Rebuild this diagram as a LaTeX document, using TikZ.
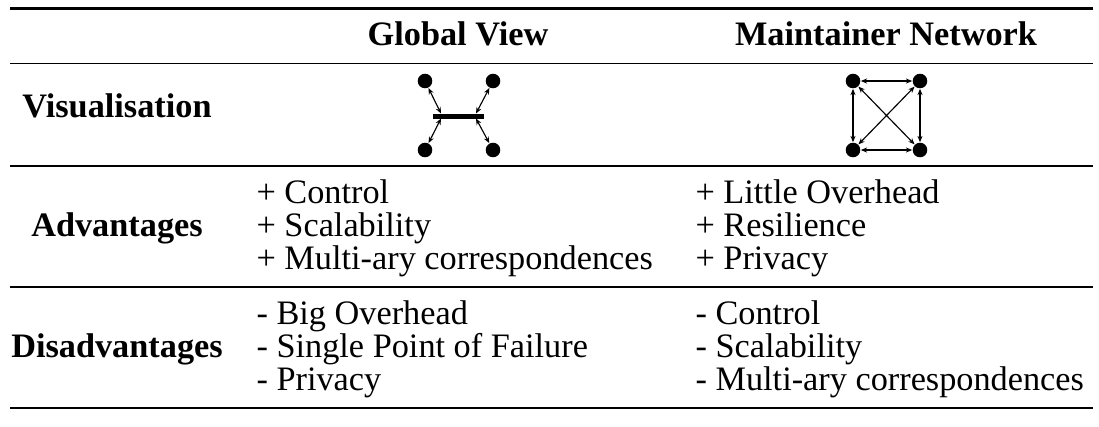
\documentclass[tikz,border=0pt]{standalone}
\usepackage{fontspec}
\setmainfont{Liberation Serif}
\usetikzlibrary{arrows.meta}
\begin{document}
\begin{tikzpicture}[x=0.35pt,y=-0.35pt,
  txt/.style={inner sep=0pt, font=\fontsize{12}{14}\selectfont},
  head/.style={inner sep=0pt, font=\fontsize{12}{14}\selectfont\bfseries, anchor=base},
  cell/.style={txt, anchor=base west},
  heavyrule/.style={line width=0.88pt},
  lightrule/.style={line width=0.55pt},
  dot/.style={circle, fill=black, inner sep=0pt, minimum size=5.1pt},
  link/.style={line width=0.4pt, {Stealth[length=2.2pt,width=1.8pt]}-{Stealth[length=2.2pt,width=1.8pt]}}
]
\useasboundingbox (0,0) rectangle (1099,426);

% table rules
\draw[heavyrule] (10,8.5) -- (1093,8.5);
\draw[lightrule] (10,63.5) -- (1093,63.5);
\draw[lightrule] (10,166) -- (1093,166);
\draw[lightrule] (10,287) -- (1093,287);
\draw[heavyrule] (10,408) -- (1093,408);

% column headers
\node[head] (hgv) at (458,45) {Global View};
\node[head] (hmn) at (886,45) {Maintainer Network};

% row labels
\node[head] (lvis) at (117,117) {Visualisation};
\node[head] (ladv) at (117,236) {Advantages};
\node[head] (ldis) at (117,357) {Disadvantages};

% global view: four peers around a central store
\node[dot] (g1) at (425,81) {};
\node[dot] (g2) at (493,81) {};
\node[dot] (g3) at (425,150) {};
\node[dot] (g4) at (493,150) {};
\node[fill=black, inner sep=0pt, minimum width=17.85pt, minimum height=1.75pt] (bar) at (458.5,116) {};
\coordinate (b1) at (441,113.5);
\coordinate (b2) at (476,113.5);
\coordinate (b3) at (441,118.5);
\coordinate (b4) at (476,118.5);
\draw[link] (g1) -- (b1);
\draw[link] (g2) -- (b2);
\draw[link] (g3) -- (b3);
\draw[link] (g4) -- (b4);

% maintainer network: every peer linked to every other
\node[dot] (m1) at (853,81) {};
\node[dot] (m2) at (920,81) {};
\node[dot] (m3) at (853,150) {};
\node[dot] (m4) at (920,150) {};
\draw[link] (m1) -- (m2);
\draw[link] (m3) -- (m4);
\draw[link] (m1) -- (m3);
\draw[link] (m2) -- (m4);
\draw[link] (m1) -- (m4);
\draw[link] (m2) -- (m3);

% advantages
\node[cell] (a1) at (256,203) {+ Control};
\node[cell] (a2) at (256,236) {+ Scalability};
\node[cell] (a3) at (256,269) {+ Multi-ary correspondences};
\node[cell] (a4) at (695,203) {+ Little Overhead};
\node[cell] (a5) at (695,236) {+ Resilience};
\node[cell] (a6) at (695,269) {+ Privacy};

% disadvantages
\node[cell] (d1) at (256,324) {- Big Overhead};
\node[cell] (d2) at (256,357) {- Single Point of Failure};
\node[cell] (d3) at (256,390) {- Privacy};
\node[cell] (d4) at (695,324) {- Control};
\node[cell] (d5) at (695,357) {- Scalability};
\node[cell] (d6) at (695,390) {- Multi-ary correspondences};
\end{tikzpicture}
\end{document}
